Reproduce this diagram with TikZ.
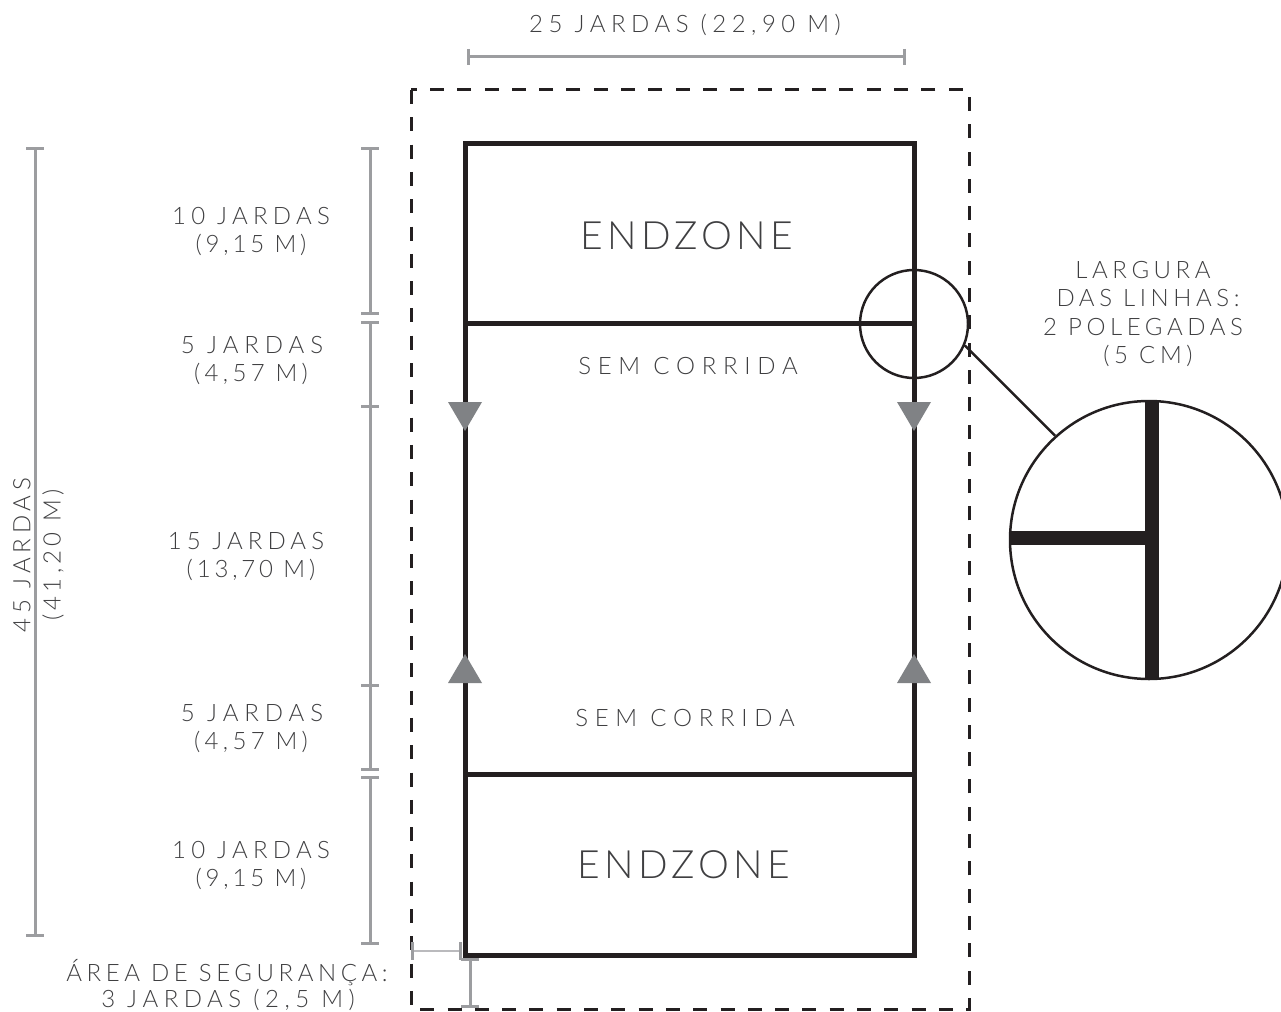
\documentclass[tikz,border=0pt]{standalone}
\usepackage{fontspec}
\setmainfont{Lato}[UprightFont=* Light]
\newfontfamily\lblfont{Lato}[UprightFont=* Light]
\definecolor{ink}{HTML}{231F20}
\definecolor{dim}{HTML}{9C9DA0}
\definecolor{tri}{HTML}{808285}
\definecolor{txt}{HTML}{3F3F41}
\tikzset{
 x=1pt,y=-1pt,
 dimline/.style={draw=dim,line width=3pt},
 lbl/.style={inner sep=0pt,text=txt,font=\lblfont\addfontfeature{LetterSpace=#1}\fontsize{24}{24}\selectfont},
 lbl/.default=20,
 biglbl/.style={inner sep=0pt,text=txt,font=\lblfont\addfontfeature{LetterSpace=11}\fontsize{39}{39}\selectfont},
 fieldline/.style={draw=ink,line width=5pt},
 lens/.style={circle,draw=ink,line width=2.5pt,inner sep=0pt,fill=none},
 triangle/.style={fill=tri,draw=none},
}
\newcommand{\vbar}[3]{%
 \draw[dimline] (#1,#2) -- (#1,#3);
 \draw[dimline] (#1-9,#2) -- (#1+9,#2);
 \draw[dimline] (#1-9,#3) -- (#1+9,#3);}
\begin{document}
\begin{tikzpicture}
\useasboundingbox (0,0) rectangle (1281,1011);
% safety area
\draw[draw=ink,line width=3pt,dash pattern=on 14pt off 13.3pt] (411,90) rectangle (969,1009);
% field
\coordinate (tl) at (465,144);
\coordinate (tr) at (914,144);
\coordinate (bl) at (465,955);
\coordinate (br) at (914,955);
\coordinate (m1l) at (465,323.5);
\coordinate (m1r) at (914,323.5);
\coordinate (m2l) at (465,774.5);
\coordinate (m2r) at (914,774.5);
\draw[fieldline,line join=miter] (tl) -- (tr) -- (br) -- (bl) -- cycle;
\draw[fieldline] (m1l) -- (m1r);
\draw[fieldline] (m2l) -- (m2r);
% triangles
\foreach \tx in {465,914}{
 \fill[triangle] (\tx-17,402) -- (\tx+17,402) -- (\tx,431) -- cycle;
 \fill[triangle] (\tx-17,683) -- (\tx+17,683) -- (\tx,654) -- cycle;
}
% lens
\node[lens,minimum size=108pt] (small) at (914,324) {};
\node[lens,minimum size=278pt] (large) at (1149,540) {};
\draw[draw=ink,line width=2.5pt] (small.-23) -- (large.132);
\coordinate (lt) at (1151.5,401);
\coordinate (lb) at (1151.5,679);
\coordinate (ll) at (1010,538);
\coordinate (lm) at (1151.5,538);
\draw[draw=ink,line width=14pt] (lt) -- (lb);
\draw[draw=ink,line width=14pt] (ll) -- (lm);
% dimension bars
\vbar{35}{148.5}{935}
\vbar{370}{148.5}{313.5}
\vbar{370}{322}{769}
\vbar{370}{777}{943}
\draw[dimline] (361,406) -- (379,406);
\draw[dimline] (361,685) -- (379,685);
\draw[dimline] (468,57) -- (904.5,57);
\draw[dimline] (468,49) -- (468,65);
\draw[dimline] (904.5,49) -- (904.5,65);
\draw[dimline,draw=dim!70,line width=2.5pt] (412,951) -- (460,951);
\draw[dimline] (412,942) -- (412,960);
\draw[dimline] (460,942) -- (460,960);
\vbar{470}{959}{1006}
% labels
\node[lbl=23] (top) at (685,25) {25 JARDAS (22,90 M)};
\node[lbl=22] (a1) at (251,216) {10 JARDAS};
\node[lbl=16] (a2) at (251,245) {(9,15 M)};
\node[lbl=24.5] (b1) at (252,345) {5 JARDAS};
\node[lbl=18] (b2) at (251,374) {(4,57 M)};
\node[lbl=21] (c1) at (246,541) {15 JARDAS};
\node[lbl=16] (c2) at (251,570) {(13,70 M)};
\node[lbl=24.5] (d1) at (252,713) {5 JARDAS};
\node[lbl=18] (d2) at (251,742) {(4,57 M)};
\node[lbl=22] (e1) at (251,850) {10 JARDAS};
\node[lbl=16] (e2) at (251,879) {(9,15 M)};
\node[biglbl] (z1) at (687,236) {ENDZONE};
\node[biglbl] (z2) at (684,865) {ENDZONE};
\node[lbl=28] (s1) at (688,366) {SEM CORRIDA};
\node[lbl=28] (s2) at (685,718) {SEM CORRIDA};
\node[lbl=19] (w1) at (1143,270) {LARGURA};
\node[lbl=19] (w2) at (1148,298) {DAS LINHAS:};
\node[lbl=19] (w3) at (1143,327) {2 POLEGADAS};
\node[lbl=19] (w4) at (1148,356) {(5 CM)};
\node[lbl=19] (f1) at (227,973) {ÁREA DE SEGURANÇA:};
\node[lbl=23] (f2) at (228,999.5) {3 JARDAS (2,5 M)};
\node[lbl=20,rotate=90] (g1) at (22,555) {45 JARDAS};
\node[lbl=18,rotate=90] (g2) at (53,555) {(41,20 M)};
\end{tikzpicture}
\end{document}
